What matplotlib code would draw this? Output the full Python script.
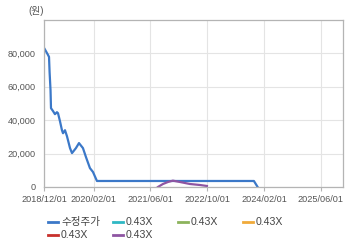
"""Adjusted share price line chart with 0.43X band lines."""

import matplotlib
matplotlib.use("Agg")
import matplotlib.pyplot as plt
import matplotlib.dates as mdates
from matplotlib.lines import Line2D
from matplotlib.ticker import FuncFormatter
import pandas as pd

plt.rcParams["font.family"] = ["Liberation Sans", "Noto Sans CJK KR", "DejaVu Sans"]

# 수정주가 (adjusted price)
price_dates = [
    "2018-12-07", "2019-01-02", "2019-01-13", "2019-01-18", "2019-01-26",
    "2019-01-30", "2019-02-17", "2019-03-05", "2019-03-22", "2019-03-31",
    "2019-04-17", "2019-05-04", "2019-05-13", "2019-05-30", "2019-06-16",
    "2019-07-12", "2019-07-29", "2019-09-01", "2019-09-27", "2019-10-31",
    "2019-11-26", "2019-12-30", "2020-01-25", "2020-02-28", "2023-11-05",
    "2023-12-07",
]
price_values = [
    82600, 79400, 77900, 68700, 57900,
    47200, 45400, 43600, 44800, 44200,
    39400, 34000, 32200, 34000, 30400,
    23300, 20300, 23300, 26300, 23300,
    17900, 11300, 9000, 3600, 3600,
    0,
]

# 0.43X band (only the last one is visible)
band_dates = [
    "2021-08-04", "2021-09-16", "2021-10-29", "2021-12-10", "2022-02-09",
    "2022-05-05", "2022-07-30", "2022-09-28",
]
band_values = [0, 1800, 3000, 3800, 3000, 1800, 1200, 600]

series_labels = ["수정주가", "0.43X", "0.43X", "0.43X", "0.43X", "0.43X"]
series_colors = ["#3b78c8", "#2fb8c4", "#8cb35c", "#f0aa3a", "#c8302c", "#8e55a2"]

x_ticks = ["2018-12-01", "2020-02-01", "2021-06-01", "2022-10-01", "2024-02-01", "2025-06-01"]
y_ticks = [0, 20000, 40000, 60000, 80000]

fig = plt.figure(figsize=(3.6, 2.48), dpi=100)
ax = fig.add_axes([44 / 360, 61 / 248, 299 / 360, 167 / 248])

series = [
    (price_dates, price_values),
    ([], []),
    ([], []),
    ([], []),
    ([], []),
    (band_dates, band_values),
]
for (dates, values), color in zip(series, series_colors):
    ax.plot(pd.to_datetime(dates), values, color=color, linewidth=1.6, solid_joinstyle="round")

ax.set_xlim(pd.Timestamp("2018-12-01"), pd.Timestamp("2025-12-08"))
ax.set_ylim(0, 100000)
ax.set_xticks(pd.to_datetime(x_ticks))
ax.xaxis.set_major_formatter(mdates.DateFormatter("%Y/%m/%d"))
ax.set_yticks(y_ticks)
ax.yaxis.set_major_formatter(FuncFormatter(lambda v, _: f"{int(v):,}"))

ax.grid(True, color="#e4e4e4", linewidth=0.8)
ax.set_axisbelow(True)
for spine in ax.spines.values():
    spine.set_color("#b4b4b4")
    spine.set_linewidth(0.9)
ax.tick_params(axis="x", length=3, color="#b4b4b4", labelsize=6.6, labelcolor="#555555", pad=3)
ax.tick_params(axis="y", length=0, labelsize=6.6, labelcolor="#555555", pad=6)

fig.text(28 / 360, 1 - 11 / 248, "(원)", fontsize=7, color="#555555", va="center", ha="left")

# legend laid out in fixed-width columns like the original
for i, (label, color) in enumerate(zip(series_labels, series_colors)):
    row, col = divmod(i, 4)
    x0 = (48 + 65 * col) / 360
    y0 = 1 - (222 + 13 * row) / 248
    fig.add_artist(Line2D([x0, x0 + 10 / 360], [y0, y0], color=color, linewidth=2,
                          transform=fig.transFigure))
    fig.text(x0 + 13 / 360, y0, label, fontsize=7.6, color="#444444", va="center", ha="left")

fig.savefig("out.png", dpi=100)
